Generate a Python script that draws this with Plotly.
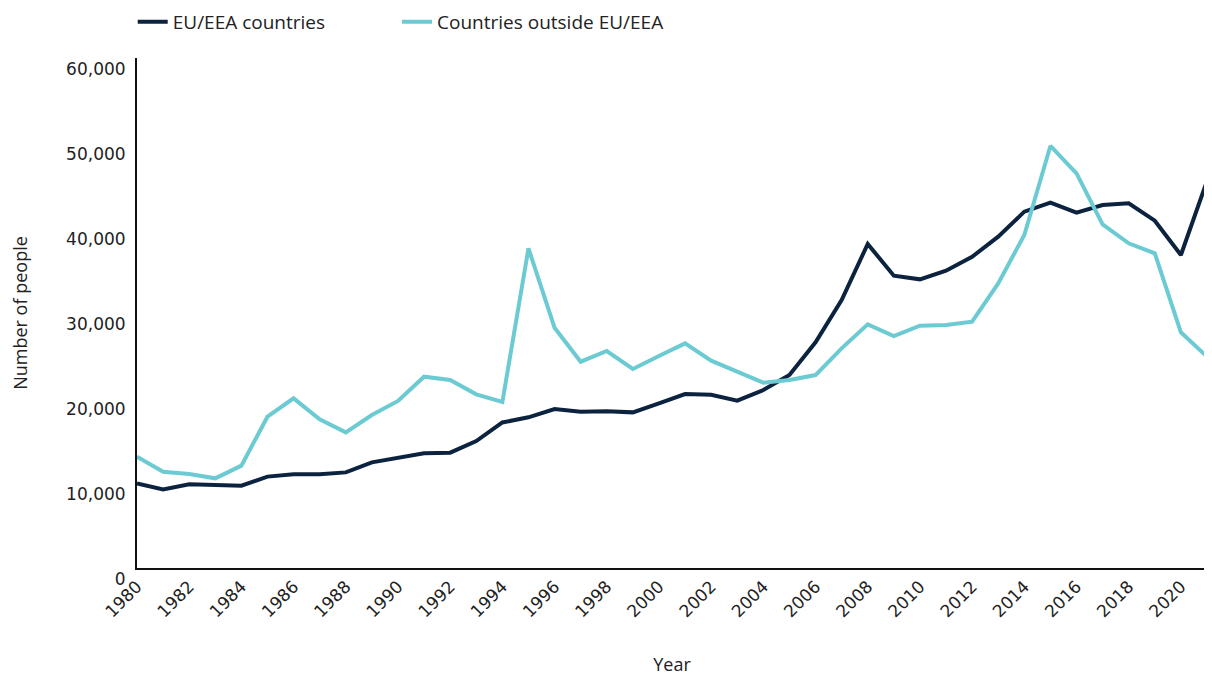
import plotly.graph_objects as go

years = list(range(1980, 2022))
eu_eea = [9960, 9250, 9840, 9760, 9690, 10750, 11020, 11020, 11250, 12430,
          12900, 13490, 13570, 14940, 17120, 17730, 18700, 18390, 18430, 18310,
          19370, 20470, 20390, 19690, 20940, 22700, 26560, 31530, 38120, 34390,
          33960, 34980, 36620, 38980, 41920, 42980, 41800, 42700, 42910, 40860,
          36820, 45530]
outside = [13100, 11330, 11060, 10550, 12040, 17800, 19960, 17490, 15960, 18000,
           19650, 22510, 22120, 20430, 19530, 37610, 28270, 24270, 25530, 23410,
           24940, 26430, 24390, 23100, 21800, 22120, 22700, 25840, 28670, 27290,
           28510, 28590, 28980, 33490, 39180, 49650, 46430, 40430, 38200, 37020,
           27730, 24860]
x_ticks = list(range(1980, 2021, 2))
y_ticks = [0, 10000, 20000, 30000, 40000, 50000, 60000]

fig = go.Figure()
fig.add_trace(go.Scatter(x=years, y=eu_eea, mode="lines", name="EU/EEA countries",
                         line=dict(color="#0c2340", width=4), legend="legend"))
fig.add_trace(go.Scatter(x=years, y=outside, mode="lines", name="Countries outside EU/EEA",
                         line=dict(color="#6ccbd2", width=4), legend="legend2"))

tick_font = dict(family="DejaVu Sans, sans-serif", size=17, color="#222222")
title_font = dict(family="Open Sans, sans-serif", size=18, color="#222222")
legend_font = dict(family="Open Sans, sans-serif", size=19, color="#222222")
fig.update_layout(
    width=1212, height=680,
    margin=dict(l=129, r=13, t=50, b=120, autoexpand=False),
    paper_bgcolor="white", plot_bgcolor="white",
    font=dict(family="Open Sans, sans-serif", color="#222222"),
    showlegend=True,
    legend=dict(orientation="h", x=-0.004, xanchor="left",
                y=1.071, yanchor="middle", font=legend_font,
                bgcolor="rgba(0,0,0,0)"),
    legend2=dict(orientation="h", x=0.243, xanchor="left",
                 y=1.071, yanchor="middle", font=legend_font,
                 bgcolor="rgba(0,0,0,0)"),
    xaxis=dict(range=[1980, 2021], tickmode="array", tickvals=x_ticks,
               ticktext=[str(t) for t in x_ticks], tickangle=-45,
               showgrid=False, zeroline=False, showline=True, linecolor="#111111",
               linewidth=2, ticks="", tickfont=tick_font, automargin=False,
               title=dict(text="Year", font=title_font, standoff=38)),
    yaxis=dict(range=[0, 60000], tickmode="array", tickvals=y_ticks,
               ticktext=[f"{v:,}" for v in y_ticks],
               showgrid=False, zeroline=False, showline=True, linecolor="#111111",
               linewidth=2, ticks="", tickfont=tick_font, ticklabelshift=11,
               ticklabelstandoff=6, automargin=False,
               title=dict(text="Number of people", font=title_font, standoff=42)),
)

fig.write_html("out.html")
